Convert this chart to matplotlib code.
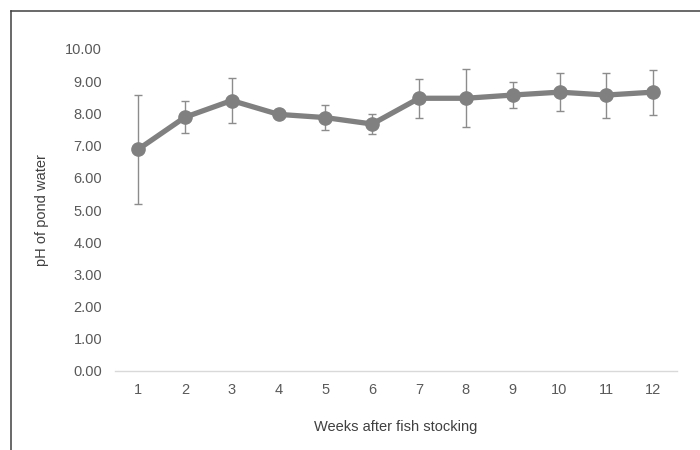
import matplotlib
matplotlib.use("Agg")
import matplotlib.pyplot as plt
from matplotlib.lines import Line2D

weeks = ["1", "2", "3", "4", "5", "6", "7", "8", "9", "10", "11", "12"]
ph_mean = [6.88, 7.88, 8.40, 7.97, 7.87, 7.67, 8.47, 8.47, 8.57, 8.66, 8.57, 8.66]
ph_err = [1.70, 0.50, 0.70, 0.05, 0.40, 0.30, 0.60, 0.90, 0.40, 0.60, 0.70, 0.70]
y_ticks = [0, 1, 2, 3, 4, 5, 6, 7, 8, 9, 10]

plt.rcParams['font.family'] = ['Liberation Sans', 'DejaVu Sans']

fig = plt.figure(figsize=(7, 4.5), dpi=100)
ax = fig.add_axes([114.6/700, 1-371/450, (676.6-114.6)/700, (371-49)/450])

x = list(range(len(weeks)))
ax.errorbar(x, ph_mean, yerr=ph_err, fmt='none', ecolor='#8c8c8c',
            elinewidth=1.0, capsize=3.2, capthick=1.0, zorder=2)
ax.plot(x, ph_mean, color='#808080', linewidth=3.8, marker='o',
        markersize=9.5, markerfacecolor='#808080', markeredgecolor='#808080',
        zorder=3, solid_joinstyle='round')

ax.set_xlim(-0.5, len(weeks) - 0.5)
ax.set_ylim(0, 10)
ax.set_xticks(x)
ax.set_xticklabels(weeks)
ax.set_yticks(y_ticks)
ax.set_yticklabels([f"{v:.2f}" for v in y_ticks])

for s in ['top', 'right', 'left']:
    ax.spines[s].set_visible(False)
ax.spines['bottom'].set_color('#d9d9d9')
ax.spines['bottom'].set_linewidth(1.0)
ax.tick_params(axis='both', length=0, labelsize=10.5, colors='#595959')
ax.tick_params(axis='x', pad=9)
ax.tick_params(axis='y', pad=9)

ax.set_xlabel("Weeks after fish stocking", fontsize=10.5, color='#404040', labelpad=16)
ax.set_ylabel("pH of pond water", fontsize=10.5, color='#404040', labelpad=12)

# outer frame (partially visible)
fig.add_artist(Line2D([10.5/700, 10.5/700], [0, 1-10.5/450], transform=fig.transFigure,
                      color='#404040', linewidth=1.1))
fig.add_artist(Line2D([10.5/700, 1], [1-10.5/450, 1-10.5/450], transform=fig.transFigure,
                      color='#404040', linewidth=1.1))

fig.savefig("out.png", dpi=100)
